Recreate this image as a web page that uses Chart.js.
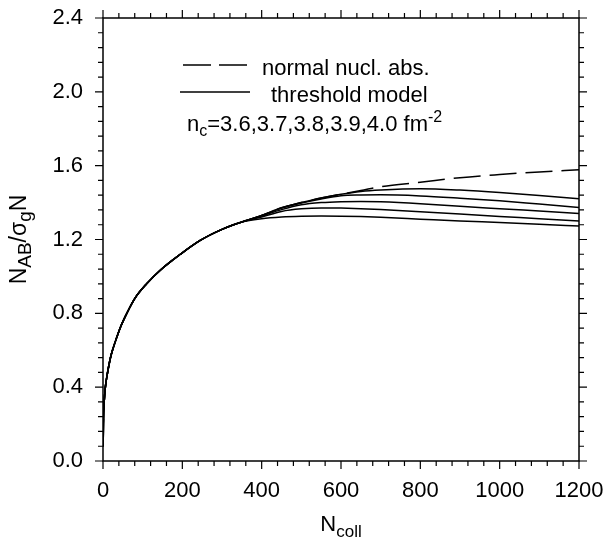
<!DOCTYPE html>
<html>
<head>
<meta charset="utf-8">
<script src="https://cdn.jsdelivr.net/npm/chart.js@4/dist/chart.umd.min.js"></script>
<style>
  body { margin: 0; background: #fff; }
  #wrap { width: 608px; height: 540px; position: relative; }
</style>
</head>
<body>
<div id="wrap"><canvas id="grafico"></canvas></div>
<script>
// N_coll values shared by every curve
const nColl = [0.5, 1, 3, 6, 10, 15, 20, 30, 45, 60, 80, 110, 145, 195, 245, 300, 350,
  400, 450, 500, 550, 600, 650, 700, 800, 900, 1000, 1100, 1200];

// common rise (N_coll <= 350), all curves sit on top of each other here
const rise = [0.08, 0.2, 0.32, 0.40, 0.46, 0.52, 0.57, 0.64, 0.73, 0.80, 0.88, 0.96,
  1.035, 1.12, 1.195, 1.255, 1.295];

// N_coll >= 400
const normalAbs = rise.concat([1.33, 1.372, 1.40, 1.425, 1.445, 1.465, 1.486, 1.51, 1.535, 1.552, 1.566, 1.578]);
const nc40 = rise.concat([1.33, 1.372, 1.40, 1.425, 1.445, 1.46, 1.468, 1.475, 1.468, 1.455, 1.438, 1.421]);
const nc39 = rise.concat([1.33, 1.37, 1.398, 1.42, 1.437, 1.441, 1.442, 1.436, 1.424, 1.41, 1.392, 1.374]);
const nc38 = rise.concat([1.328, 1.362, 1.388, 1.40, 1.405, 1.406, 1.404, 1.394, 1.38, 1.367, 1.354, 1.341]);
const nc37 = rise.concat([1.322, 1.352, 1.366, 1.371, 1.37, 1.367, 1.362, 1.35, 1.338, 1.325, 1.313, 1.30]);
const nc36 = rise.concat([1.313, 1.322, 1.326, 1.327, 1.326, 1.324, 1.32, 1.31, 1.30, 1.292, 1.283, 1.273]);

const xTicks = ["0", "200", "400", "600", "800", "1000", "1200"];
const yTicks = ["0.0", "0.4", "0.8", "1.2", "1.6", "2.0", "2.4"];

const FONT = "'Liberation Sans', Arial, sans-serif";

function pts(arr) {
  return arr.map((v, i) => ({ x: nColl[i], y: v }));
}

function serie(label, arr, dash) {
  return {
    label: label,
    data: pts(arr),
    borderColor: "#000",
    borderWidth: 1.5,
    borderDash: dash || [],
    pointRadius: 0,
    fill: false,
    cubicInterpolationMode: "monotone",
  };
}

function isMajorY(v) {
  return Math.abs(v * 2.5 - Math.round(v * 2.5)) < 1e-6;
}

// text with sub/superscripts: parts = [[text, size, shift]]
function richText(ctx, parts, x, y) {
  let cx = x;
  parts.forEach(p => {
    ctx.font = p[1] + "px " + FONT;
    ctx.fillText(p[0], cx, y + p[2]);
    cx += ctx.measureText(p[0]).width;
  });
  return cx - x;
}
function richWidth(ctx, parts) {
  let w = 0;
  parts.forEach(p => {
    ctx.font = p[1] + "px " + FONT;
    w += ctx.measureText(p[0]).width;
  });
  return w;
}

function noPad(s) {
  s.paddingTop = 0; s.paddingBottom = 0; s.paddingLeft = 0; s.paddingRight = 0;
}

const frame = {
  id: "frame",
  afterDraw(chart) {
    const ctx = chart.ctx;
    const a = chart.chartArea;
    const xs = chart.scales.x, ys = chart.scales.y;
    ctx.save();
    ctx.strokeStyle = "#000";
    ctx.lineWidth = 1.5;
    ctx.strokeRect(a.left, a.top, a.right - a.left, a.bottom - a.top);
    ctx.beginPath();
    xs.ticks.forEach(t => {
      const p = xs.getPixelForValue(t.value);
      const len = xTicks.includes(String(t.value)) ? 8 : 5;
      ctx.moveTo(p, a.bottom); ctx.lineTo(p, a.bottom + len);
      ctx.moveTo(p, a.top); ctx.lineTo(p, a.top - len);
    });
    ys.ticks.forEach(t => {
      const p = ys.getPixelForValue(t.value);
      const len = isMajorY(t.value) ? 8 : 5;
      ctx.moveTo(a.left, p); ctx.lineTo(a.left - len, p);
      ctx.moveTo(a.right, p); ctx.lineTo(a.right + len, p);
    });
    ctx.lineWidth = 1.2;
    ctx.stroke();

    // legend
    ctx.fillStyle = "#000";
    ctx.textBaseline = "alphabetic";
    ctx.lineWidth = 1.5;
    ctx.setLineDash([28, 8]);
    ctx.beginPath(); ctx.moveTo(183, 65); ctx.lineTo(247, 65); ctx.stroke();
    ctx.setLineDash([]);
    ctx.beginPath(); ctx.moveTo(180, 92); ctx.lineTo(250, 92); ctx.stroke();
    ctx.font = "22px " + FONT;
    ctx.fillText("normal nucl. abs.", 262, 75);
    ctx.fillText("threshold model", 271, 102);
    richText(ctx, [["n", 22, 0], ["c", 16, 5], ["=3.6,3.7,3.8,3.9,4.0 fm", 22, 0], ["-2", 16, -9]], 187, 131);

    // x title
    const xt = [["N", 22, 0], ["coll", 17, 6]];
    const xw = richWidth(ctx, xt);
    richText(ctx, xt, (a.left + a.right) / 2 - xw / 2, 531);

    // y title
    const yt = [["N", 23, 0], ["AB", 19, 5], ["/", 23, 0], ["σ", 23, 0], ["g", 19, 5], ["N", 23, 0]];
    const yw = richWidth(ctx, yt);
    ctx.translate(26, (a.top + a.bottom) / 2 + yw / 2);
    ctx.rotate(-Math.PI / 2);
    richText(ctx, yt, 0, 0);
    ctx.restore();
  },
};

const config = {
  type: "line",
  data: {
    datasets: [
      serie("normal nucl. abs.", normalAbs, [27, 9]),
      serie("nc=4.0", nc40),
      serie("nc=3.9", nc39),
      serie("nc=3.8", nc38),
      serie("nc=3.7", nc37),
      serie("nc=3.6", nc36),
    ],
  },
  options: {
    responsive: true,
    maintainAspectRatio: false,
    animation: false,
    layout: { padding: { left: 40, right: 29, top: 18, bottom: 0 } },
    plugins: { legend: { display: false }, tooltip: { enabled: false } },
    scales: {
      x: {
        type: "linear",
        min: 0,
        max: 1200,
        grid: { display: false, drawTicks: false },
        border: { display: false },
        afterFit(s) { s.height = 79; noPad(s); },
        ticks: {
          stepSize: 40,
          autoSkip: false,
          maxRotation: 0,
          padding: 17,
          color: "#000",
          font: { family: FONT, size: 22 },
          callback: v => (xTicks.includes(String(v)) ? String(v) : ""),
        },
      },
      y: {
        min: 0,
        max: 2.4,
        grid: { display: false, drawTicks: false },
        border: { display: false },
        afterFit(s) { s.width = 63; noPad(s); },
        ticks: {
          stepSize: 0.08,
          autoSkip: false,
          padding: 20,
          color: "#000",
          font: { family: FONT, size: 22 },
          callback: v => (isMajorY(v) ? v.toFixed(1) : ""),
        },
      },
    },
  },
  plugins: [frame],
};

const myChart = new Chart(document.getElementById("grafico"), config);
</script>
</body>
</html>
